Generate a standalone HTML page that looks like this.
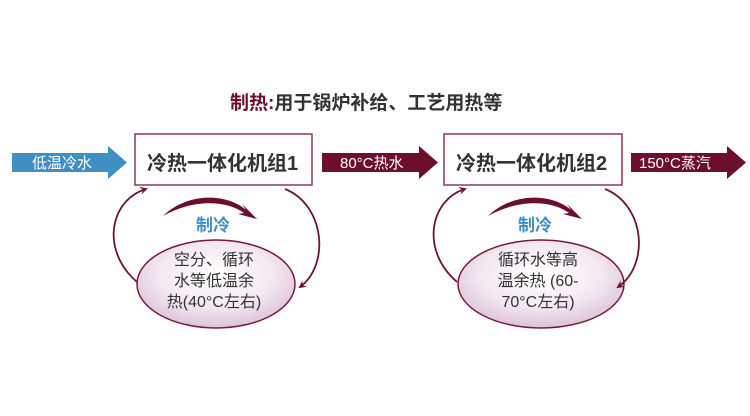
<!DOCTYPE html>
<html><head><meta charset="utf-8"><style>
body{margin:0;background:#fff;width:750px;height:416px;overflow:hidden;font-family:"Liberation Sans","Noto Sans CJK SC",sans-serif}
.t{position:absolute;white-space:nowrap}
</style></head><body>
<svg width="750" height="416" style="position:absolute;left:0;top:0">
<defs>
<radialGradient id="g" cx="50%" cy="40%" r="60%"><stop offset="0" stop-color="#ffffff"/><stop offset="0.6" stop-color="#f3e9f1"/><stop offset="1" stop-color="#dcc3d6"/></radialGradient>
<marker id="ah" markerWidth="8" markerHeight="8" refX="6" refY="4" orient="auto" markerUnits="userSpaceOnUse"><path d="M0,0 L8,4 L0,8 L3,4z" fill="#6e1530"/></marker>
</defs>
<polygon points="12,153 108,153 108,146 127,162.5 108,179 108,172 12,172" fill="#3f8fc3"/>
<polygon points="322,153 419,153 419,146 438,162.5 419,179 419,172 322,172" fill="#6b0f2a"/>
<polygon points="631,153 727,153 727,146 746,162.5 727,179 727,172 631,172" fill="#6b0f2a"/>
<rect x="135" y="134" width="177" height="51" fill="#fff" stroke="#8a3a5c" stroke-width="1.5"/>
<rect x="444" y="134" width="178" height="51" fill="#fff" stroke="#8a3a5c" stroke-width="1.5"/>
<ellipse cx="216" cy="284" rx="79" ry="44" fill="url(#g)" stroke="#7a1a3f" stroke-width="1.5"/>
<ellipse cx="541" cy="284" rx="83" ry="44" fill="url(#g)" stroke="#7a1a3f" stroke-width="1.5"/>
<g fill="none" stroke="#6e1530" stroke-width="1.8">
<path d="M137,282 C100,250 110,200 146,189" marker-end="url(#ah)"/>
<path d="M285,189 C325,205 330,265 300,287" marker-end="url(#ah)"/>
<path d="M457,282 C420,250 430,200 465,189" marker-end="url(#ah)"/>
<path d="M605,189 C645,205 650,265 618,287" marker-end="url(#ah)"/>
</g>
<path d="M163,216 C190,190 230,195 246,210 L242,204 L257,219 L238,214 L244,213 C228,201 195,198 163,216z" fill="#6b0f2a"/>
<path d="M488,216 C515,190 555,195 571,210 L567,204 L582,219 L563,214 L569,213 C553,201 520,198 488,216z" fill="#6b0f2a"/>
</svg>
<div class="t" style="left:230px;top:88px;font-size:19px;font-weight:600;color:#333"><span style="color:#6b0f2a;font-weight:bold">制热:</span>用于锅炉补给、工艺用热等</div>
<div class="t" style="left:32px;top:152px;font-size:15px;color:#fff">低温冷水</div>
<div class="t" style="left:147px;top:147px;font-size:20px;font-weight:bold;color:#333">冷热一体化机组1</div>
<div class="t" style="left:456px;top:147px;font-size:20px;font-weight:bold;color:#333">冷热一体化机组2</div>
<div class="t" style="left:340px;top:152px;font-size:15px;color:#fff">80°C热水</div>
<div class="t" style="left:639px;top:152px;font-size:15px;color:#fff">150°C蒸汽</div>
<div class="t" style="left:196px;top:211px;font-size:17px;font-weight:bold;color:#3f8fc3">制冷</div>
<div class="t" style="left:518px;top:211px;font-size:17px;font-weight:bold;color:#3f8fc3">制冷</div>
<div class="t" style="left:166px;top:250px;font-size:16px;line-height:21px;color:#333;text-align:center;width:96px">空分、循环<br>水等低温余<br>热(40°C左右)</div>
<div class="t" style="left:490px;top:250px;font-size:16px;line-height:21px;color:#333;text-align:center;width:96px">循环水等高<br>温余热 (60-<br>70°C左右)</div>
</body></html>
